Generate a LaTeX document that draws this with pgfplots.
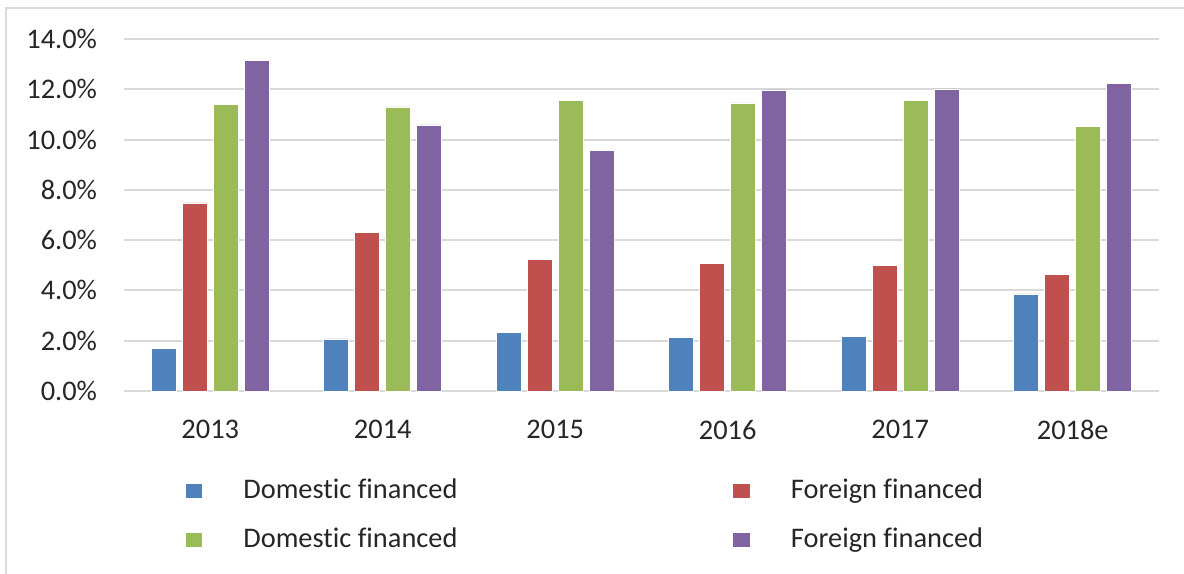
\documentclass[border=0pt]{standalone}
\usepackage{pgfplots}
\pgfplotsset{compat=1.18}
\usepackage{fontspec}
\setmainfont[Ligatures={NoCommon,NoRare,NoDiscretionary}]{Carlito}
\definecolor{cblue}{HTML}{4F81BD}
\definecolor{cred}{HTML}{C0504D}
\definecolor{cgreen}{HTML}{9BBB59}
\definecolor{cpurple}{HTML}{8064A2}
\definecolor{cgrid}{HTML}{D9D9D9}
\definecolor{ctext}{HTML}{262626}
\newcommand{\bigfont}{\fontsize{28.5}{34}\selectfont}
\begin{document}
\begin{tikzpicture}
\useasboundingbox (0,0) rectangle (1184bp,574bp);
\fill[white] (0,0) rectangle (1184bp,574bp);
\draw[cgrid, line width=2.2bp] (6bp,0) -- (6bp,566bp) -- (1184bp,566bp);
\begin{axis}[
  at={(124bp,183bp)}, anchor=south west,
  scale only axis, width=1035bp, height=352bp,
  ybar=6bp, bar width=25bp,
  xmin=-0.5, xmax=5.5, ymin=0, ymax=14,
  xtick=data,
  xticklabels={2013,2014,2015,2016,2017,2018e},
  ytick={0,2,4,6,8,10,12,14},
  yticklabel={\pgfmathprintnumber[fixed,fixed zerofill,precision=1]{\tick}\%},
  /pgf/number format/assume math mode=true,
  major tick length=0pt,
  axis line style={draw=none},
  ymajorgrids, grid style={cgrid, line width=2bp},
  tick label style={font=\bigfont, text=ctext},
  xticklabel style={anchor=north, inner sep=0pt, outer sep=0pt, yshift=-29bp},
  yticklabel style={anchor=east, inner sep=0pt, outer sep=0pt, xshift=-27bp},
  clip=false,
  legend columns=2,
  legend image code/.code={\path[#1, draw=none] (0bp,-7bp) rectangle (16.6bp,7bp);},
  legend style={at={(0.0597,-0.2415)}, anchor=north west, draw=none, fill=none,
    inner sep=0pt, outer sep=0pt, font=\bigfont, text=ctext,
    column sep=0pt, row sep=20bp,
    cells={anchor=west},
    nodes={inner sep=0pt, outer sep=0pt, text height=22bp, text depth=7bp},
    /tikz/every odd column/.style={column sep=41bp},
    /tikz/every even column/.style={column sep=0pt}},
]
\addplot[fill=cblue, draw=white, line width=0.5bp] coordinates {(0,1.71) (1,2.07) (2,2.33) (3,2.12) (4,2.17) (5,3.86)};
\addlegendentry{\makebox[490bp][l]{Domestic financed}}
\addplot[fill=cred, draw=white, line width=0.5bp] coordinates {(0,7.48) (1,6.31) (2,5.24) (3,5.08) (4,4.99) (5,4.63)};
\addlegendentry{Foreign financed}
\addplot[fill=cgreen, draw=white, line width=0.5bp] coordinates {(0,11.41) (1,11.30) (2,11.56) (3,11.46) (4,11.56) (5,10.53)};
\addlegendentry{\makebox[490bp][l]{Domestic financed}}
\addplot[fill=cpurple, draw=white, line width=0.5bp] coordinates {(0,13.14) (1,10.58) (2,9.58) (3,11.98) (4,12.02) (5,12.23)};
\addlegendentry{Foreign financed}
\end{axis}
\end{tikzpicture}
\end{document}
